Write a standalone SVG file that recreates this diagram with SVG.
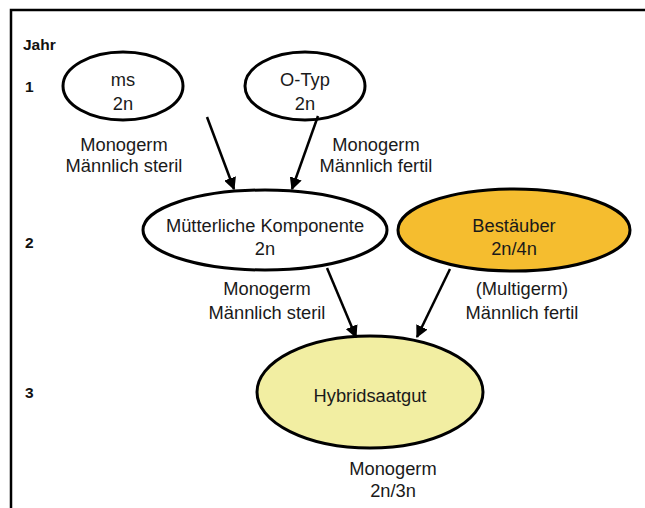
<svg xmlns="http://www.w3.org/2000/svg" width="645" height="508" viewBox="0 0 645 508">
<defs>
<style>
text{font-family:"Liberation Sans",Arial,sans-serif;fill:#1a1a1a;text-anchor:middle;font-size:18.3px}
.yr{font-weight:bold;text-anchor:start;font-size:15.5px;fill:#111}
.node{stroke:#000;stroke-width:3}
.conn{stroke:#000;stroke-width:2.5;fill:none;marker-end:url(#ah)}
</style>
<marker id="ah" viewBox="0 0 10 10" refX="9" refY="5" markerWidth="5" markerHeight="5" orient="auto" markerUnits="strokeWidth">
<path d="M0,0 L10,5 L0,10 Z" fill="#000"/>
</marker>
</defs>
<rect x="0" y="0" width="645" height="508" fill="#fff"/>
<path d="M11,520 L11,10 L660,10" fill="none" stroke="#000" stroke-width="2.5"/>
<text class="yr" x="23" y="50">Jahr</text>
<text class="yr" x="25" y="92">1</text>
<text class="yr" x="25" y="248">2</text>
<text class="yr" x="25" y="398">3</text>
<g id="ms">
<ellipse class="node" cx="123" cy="86" rx="60" ry="34" fill="#fff"/>
<text x="123" y="86">ms</text>
<text x="123" y="110">2n</text>
</g>
<g id="otyp">
<ellipse class="node" cx="305" cy="86" rx="60" ry="34" fill="#fff"/>
<text x="305" y="86">O-Typ</text>
<text x="305" y="110">2n</text>
</g>
<g id="muetter">
<ellipse class="node" cx="265" cy="230" rx="122" ry="40" fill="#fff"/>
<text x="265" y="232">Mütterliche Komponente</text>
<text x="265" y="255">2n</text>
</g>
<g id="bestaeuber">
<ellipse class="node" cx="514" cy="230" rx="116" ry="41" fill="#F5BD2F"/>
<text x="514" y="232">Bestäuber</text>
<text x="514" y="255">2n/4n</text>
</g>
<g id="hybrid">
<ellipse class="node" cx="370" cy="392" rx="113" ry="56" fill="#F2EEA2"/>
<text x="370" y="402">Hybridsaatgut</text>
</g>
<g id="labels">
<text x="124" y="151">Monogerm</text>
<text x="124" y="172">Männlich steril</text>
<text x="376" y="151">Monogerm</text>
<text x="376" y="172">Männlich fertil</text>
<text x="267" y="295">Monogerm</text>
<text x="267" y="319">Männlich steril</text>
<text x="522" y="295">(Multigerm)</text>
<text x="522" y="319">Männlich fertil</text>
<text x="393" y="475">Monogerm</text>
<text x="393" y="497">2n/3n</text>
</g>
<g id="connectors">
<line class="conn" x1="207" y1="117" x2="234" y2="189"/>
<line class="conn" x1="318" y1="116" x2="292" y2="189"/>
<line class="conn" x1="327" y1="268" x2="356" y2="337"/>
<line class="conn" x1="450" y1="269" x2="417" y2="337"/>
</g>
</svg>
